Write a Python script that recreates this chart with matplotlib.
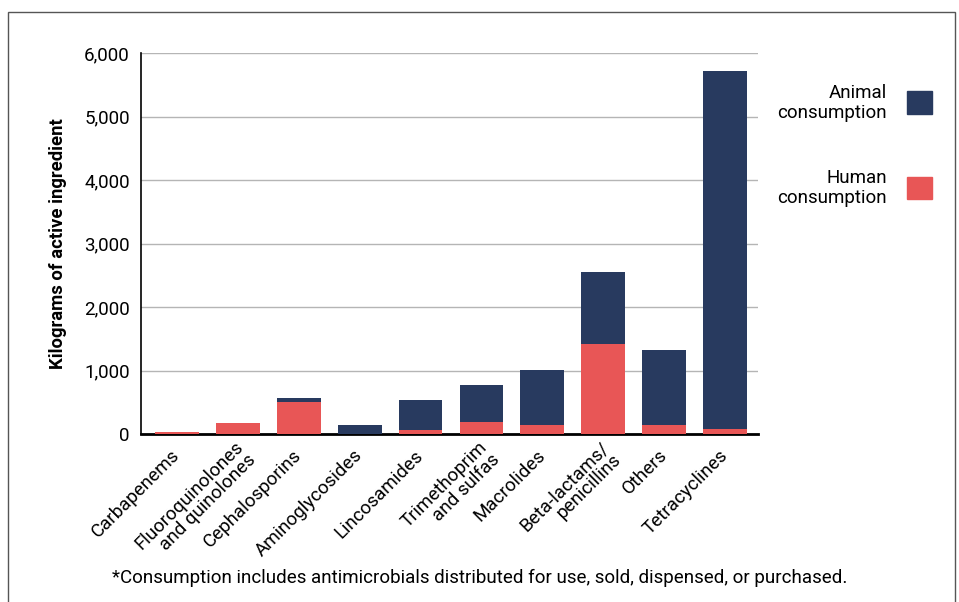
import matplotlib
matplotlib.use("Agg")
import matplotlib.pyplot as plt
import matplotlib.transforms as mtransforms
import numpy as np
from matplotlib.patches import Rectangle

plt.rcParams['font.family'] = ['Roboto', 'DejaVu Sans']

categories = ["Carbapenems", "Fluoroquinolones\nand quinolones", "Cephalosporins",
              "Aminoglycosides", "Lincosamides", "Trimethoprim\nand sulfas",
              "Macrolides", "Beta-lactams/\npenicillins", "Others", "Tetracyclines"]
human = [25, 175, 510, 0, 70, 190, 145, 1420, 145, 80]
animal = [0, 0, 60, 140, 470, 580, 865, 1130, 1175, 5635]
yticks = [0, 1000, 2000, 3000, 4000, 5000, 6000]

navy = "#283a5f"
red = "#e85656"
FS = 13.5

W, H = 959, 602
fig = plt.figure(figsize=(W/100, H/100), dpi=100)
ax = fig.add_axes([141/W, 1-434/H, (758-141)/W, (434-53)/H])

x = np.arange(len(categories))
ax.bar(x, human, width=0.72, color=red, zorder=3)
ax.bar(x, animal, bottom=human, width=0.72, color=navy, zorder=3)

ax.set_xlim(-0.59, len(categories)-0.46)
ax.set_ylim(0, 6000)
ax.set_yticks(yticks)
ax.set_yticklabels([f"{v:,}" for v in yticks], fontsize=FS)
ax.yaxis.grid(True, color="#b5b5b5", linewidth=1, zorder=0)
ax.set_axisbelow(True)
for s in ["top", "right"]:
    ax.spines[s].set_visible(False)
ax.spines["left"].set_linewidth(1.2)
ax.spines["bottom"].set_linewidth(2)
ax.tick_params(axis="y", length=0, pad=8)
ax.tick_params(axis="x", length=0, pad=13.5)
ax.set_xticks(x)
labels = ax.set_xticklabels(categories, rotation=45, ha="right", va="center",
                            rotation_mode="anchor", fontsize=FS,
                            multialignment="right", linespacing=0.95)
for lab in labels:
    if "\n" in lab.get_text():
        lab.set_transform(lab.get_transform() +
                          mtransforms.ScaledTranslation(0.09, 0.02, fig.dpi_scale_trans))
ax.set_ylabel("Kilograms of active ingredient", fontsize=13.3, fontweight="bold", labelpad=12)

# legend
fig.text(887/W, 1-103/H, "Animal\nconsumption", ha="right", va="center", fontsize=FS,
         multialignment="right", linespacing=1.1)
fig.text(887/W, 1-188/H, "Human\nconsumption", ha="right", va="center", fontsize=FS,
         multialignment="right", linespacing=1.1)
fig.patches.append(Rectangle((907/W, 1-114/H), 25/W, 23/H, transform=fig.transFigure,
                             color=navy))
fig.patches.append(Rectangle((907/W, 1-199/H), 25/W, 22/H, transform=fig.transFigure,
                             color=red))

fig.text(480/W, 1-578/H,
         "*Consumption includes antimicrobials distributed for use, sold, dispensed, or purchased.",
         ha="center", va="center", fontsize=FS)

# frame
fig.patches.append(Rectangle((8/W, -0.05), (955-8)/W, 1.05-12/H,
                             transform=fig.transFigure, fill=False,
                             edgecolor="#555555", linewidth=1))

fig.savefig("out.png", dpi=100)
